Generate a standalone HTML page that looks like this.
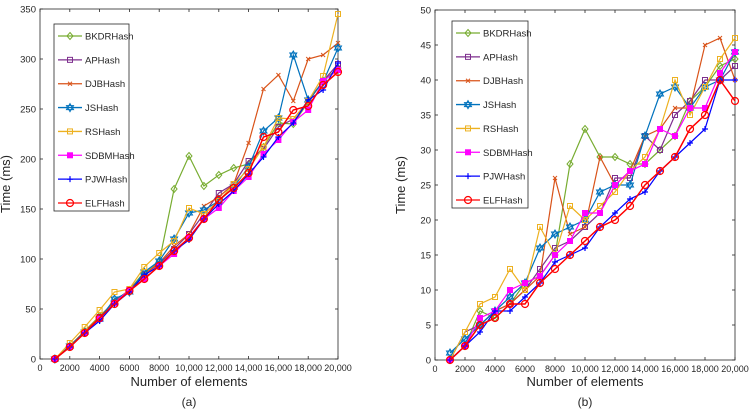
<!DOCTYPE html>
<html><head><meta charset="utf-8"><style>
body{margin:0;background:#fff;width:752px;height:412px;overflow:hidden;font-family:"Liberation Sans",sans-serif}
svg text{font-family:"Liberation Sans",sans-serif;fill:#262626}
</style></head><body>
<svg id="chart" width="752" height="412" viewBox="0 0 752 412" xmlns="http://www.w3.org/2000/svg"></svg>
<script>
const xValues=[1000,2000,3000,4000,5000,6000,7000,8000,9000,10000,11000,12000,13000,14000,15000,16000,17000,18000,19000,20000];
const seriesNames=["BKDRHash","APHash","DJBHash","JSHash","RSHash","SDBMHash","PJWHash","ELFHash"];
const xTickLabels=["0","2000","4000","6000","8000","10,000","12,000","14,000","16,000","18,000","20,000"];
const yTicksA=[0,50,100,150,200,250,300,350];
const yTicksB=[0,5,10,15,20,25,30,35,40,45,50];
const bkdrA=[0,13,28,43,57,69,87,97,170,203,173,184,191,195,212,236,235,257,278,291];
const apA=[0,13,27,42,57,69,85,95,110,125,145,166,175,198,210,232,240,258,278,295];
const djbA=[0,13,28,42,58,69,85,96,113,125,153,162,175,216,270,284,258,300,304,316];
const jsA=[0,13,27,40,60,67,87,98,120,146,149,158,172,192,228,241,304,259,277,311];
const rsA=[0,16,32,49,67,70,92,106,118,151,145,158,175,190,212,241,240,258,283,345];
const sdbmA=[0,12,26,40,56,69,80,93,105,122,140,151,168,182,205,219,237,249,278,289];
const pjwA=[0,12,26,38,55,67,84,93,108,119,140,155,168,185,202,222,236,259,269,296];
const elfA=[0,12,26,41,55,68,80,93,108,121,140,159,171,186,222,227,249,253,274,287];
const bkdrB=[0,2,7,6,8,11,12,15,28,33,29,29,28,28,30,32,37,39,42,43];
const apB=[0,4,5,7,8,10,13,16,17,19,21,26,26,32,30,35,37,40,40,42];
const djbB=[0,2,5,7,8,10,12,26,18,19,29,25,27,32,33,36,36,45,46,40];
const jsB=[1,3,5,7,9,11,16,18,19,20,24,25,25,32,38,39,36,39,40,44];
const rsB=[0,4,8,9,13,10,19,15,22,20,22,24,27,29,33,40,35,39,43,46];
const sdbmB=[0,2,6,7,10,11,12,15,17,21,21,25,27,28,33,32,36,36,41,44];
const pjwB=[0,2,4,7,7,9,11,14,15,16,19,21,23,24,27,29,31,33,40,40];
const elfB=[0,2,5,6,8,8,11,13,15,17,19,20,22,25,27,29,33,35,40,37];

const colors=["#77AC30","#7E2F8E","#D95319","#0072BD","#EDB120","#FF00FF","#0000FF","#FF0000"];
const markers=["diamond","square","x","star","square","fsquare","plus","circle"];
const NS="http://www.w3.org/2000/svg";
const svg=document.getElementById('chart');
function mk(tag,attrs,parent){const e=document.createElementNS(NS,tag);for(const k in attrs)e.setAttribute(k,attrs[k]);(parent||svg).appendChild(e);return e;}
function marker(g,type,x,y,c){
  let e;
  if(type==="diamond")e=mk('path',{d:`M${x} ${y-3.5}L${x+3} ${y}L${x} ${y+3.5}L${x-3} ${y}Z`,fill:'none',stroke:c,'stroke-width':1},g);
  else if(type==="square")e=mk('rect',{x:x-2.5,y:y-2.5,width:5,height:5,fill:'none',stroke:c,'stroke-width':1},g);
  else if(type==="fsquare")e=mk('rect',{x:x-2.5,y:y-2.5,width:5,height:5,fill:c,stroke:c},g);
  else if(type==="x")e=mk('path',{d:`M${x-2} ${y-2}L${x+2} ${y+2}M${x-2} ${y+2}L${x+2} ${y-2}`,stroke:c,'stroke-width':1},g);
  else if(type==="plus")e=mk('path',{d:`M${x-3} ${y}L${x+3} ${y}M${x} ${y-3}L${x} ${y+3}`,stroke:c,'stroke-width':1.2},g);
  else if(type==="star")e=mk('path',{d:`M${x} ${y-4}L${x+3.5} ${y+2}L${x-3.5} ${y+2}ZM${x} ${y+4}L${x+3.5} ${y-2}L${x-3.5} ${y-2}Z`,fill:'none',stroke:c,'stroke-width':1},g);
  else e=mk('circle',{cx:x,cy:y,r:3.5,fill:'none',stroke:c,'stroke-width':1.2},g);
  
  
}
function panel(id,box,yMax,yTicks,data,leg,label){
  const g=mk('g',{});
  
  
  const X=v=>box.l+(v/20000)*(box.r-box.l);
  const Y=v=>box.b-(v/yMax)*(box.b-box.t);
  mk('rect',{x:box.l,y:box.t,width:box.r-box.l,height:box.b-box.t,fill:'#fff',stroke:'#262626','stroke-width':0.8},g);
  for(let i=0;i<xTickLabels.length;i++){
    const v=i*2000,x=X(v);
    mk('line',{x1:x,x2:x,y1:box.b,y2:box.b-3,stroke:'#262626','stroke-width':0.8},g);
    mk('line',{x1:x,x2:x,y1:box.t,y2:box.t+3,stroke:'#262626','stroke-width':0.8},g);
    const t=mk('text',{x:x,y:box.b+12,'text-anchor':'middle','font-size':9},g);t.textContent=xTickLabels[i];
    
  }
  for(const v of yTicks){
    const y=Y(v);
    mk('line',{x1:box.l,x2:box.l+3,y1:y,y2:y,stroke:'#262626','stroke-width':0.8},g);
    mk('line',{x1:box.r,x2:box.r-3,y1:y,y2:y,stroke:'#262626','stroke-width':0.8},g);
    const t=mk('text',{x:box.l-4,y:y+3.5,'text-anchor':'end','font-size':9.5},g);t.textContent=v;
    
  }
  data.forEach((arr,si)=>{
    const sg=mk('g',{},g);
    
    
    const pts=arr.map((v,i)=>X(xValues[i]).toFixed(1)+','+Y(v).toFixed(1)).join(' ');
    mk('polyline',{points:pts,fill:'none',stroke:colors[si],'stroke-width':si===7?1.5:1.2},sg);
    arr.forEach((v,i)=>marker(sg,markers[si],X(xValues[i]),Y(v),colors[si]));
  });
  const lg=mk('g',{},g);
  
  
  mk('rect',{x:leg.x,y:leg.y,width:leg.w,height:leg.h,fill:'#fff',stroke:'#262626','stroke-width':0.8},lg);
  const step=(leg.h-20)/7;
  seriesNames.forEach((n,si)=>{
    const y=leg.y+12+si*step;
    mk('line',{x1:leg.x+4,x2:leg.x+28,y1:y,y2:y,stroke:colors[si],'stroke-width':1.3},lg);
    marker(lg,markers[si],leg.x+16,y,colors[si]);
    const t=mk('text',{x:leg.x+31,y:y+3.5,'font-size':9.5},lg);t.textContent=n;
    
  });
  const cx=(box.l+box.r)/2;
  const xt=mk('text',{x:cx,y:386,'text-anchor':'middle','font-size':13},g);xt.textContent='Number of elements';
  
  const lb=mk('text',{x:cx,y:406,'text-anchor':'middle','font-size':12},g);lb.textContent=label;
  
  const yt=mk('text',{x:0,y:0,'text-anchor':'middle','font-size':13,transform:`translate(${box.l-30},${(box.t+box.b)/2}) rotate(-90)`},g);yt.textContent='Time (ms)';
  
}
panel('panel-a',{l:40,r:338,t:9,b:359},350,yTicksA,[bkdrA,apA,djbA,jsA,rsA,sdbmA,pjwA,elfA],{x:54,y:24,w:75,h:187},'(a)');
panel('panel-b',{l:435,r:735,t:10,b:360},50,yTicksB,[bkdrB,apB,djbB,jsB,rsB,sdbmB,pjwB,elfB],{x:452,y:21,w:76,h:187},'(b)');
</script>
</body></html>
